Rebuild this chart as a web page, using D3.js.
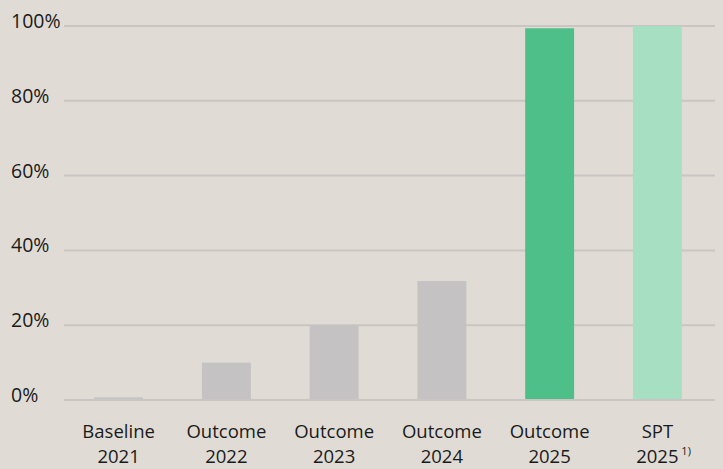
<!DOCTYPE html>
<html>
<head>
<meta charset="utf-8">
<script src="https://cdn.jsdelivr.net/npm/d3@7"></script>
<style>
  body { margin: 0; background: #e0dcd5; }
  svg { display: block; }
</style>
</head>
<body>
<svg id="chart"></svg>
<script>
// categories (two label lines each) and values in percent
const catLine1 = ["Baseline", "Outcome", "Outcome", "Outcome", "Outcome", "SPT"];
const catLine2 = ["2021", "2022", "2023", "2024", "2025", "2025"];
const values = [0.7, 10, 20, 31.8, 99.4, 100];
const barColors = ["#c4c2c2", "#c4c2c2", "#c4c2c2", "#c4c2c2", "#4fbf8a", "#a7dfc3"];
const yTicks = [0, 20, 40, 60, 80, 100];

const width = 723, height = 469;
const margin = { top: 26, right: 10, bottom: 69, left: 64 };

const svg = d3.select("#chart")
  .attr("width", width)
  .attr("height", height);

const x = d3.scaleBand()
  .domain(d3.range(values.length))
  .range([margin.left, width - 11])
  .paddingInner(0.546)
  .paddingOuter(0.28);

const y = d3.scaleLinear()
  .domain([0, 100])
  .range([height - margin.bottom, margin.top]);

// gridlines
svg.append("g")
  .selectAll("line")
  .data(yTicks)
  .join("line")
  .attr("x1", margin.left)
  .attr("x2", width - 8)
  .attr("y1", d => y(d))
  .attr("y2", d => y(d))
  .attr("stroke", "#c8c5c3")
  .attr("stroke-width", 2);

// y labels
svg.append("g")
  .selectAll("text")
  .data(yTicks)
  .join("text")
  .attr("x", 11)
  .attr("y", d => y(d) + 2)
  .attr("font-family", "Open Sans")
  .attr("font-size", 19.5)
  .attr("fill", "#1a1a1a")
  .text(d => d + "%");

// bars
svg.append("g")
  .selectAll("rect")
  .data(values)
  .join("rect")
  .attr("x", (d, i) => x(i))
  .attr("width", x.bandwidth())
  .attr("y", d => y(d))
  .attr("height", d => y(0) - y(d) - 1)
  .attr("fill", (d, i) => barColors[i]);

// x labels, one text per line
const cx = i => x(i) + x.bandwidth() / 2;

svg.append("g")
  .selectAll("text")
  .data(catLine1)
  .join("text")
  .attr("x", (d, i) => cx(i))
  .attr("y", 438)
  .attr("text-anchor", "middle")
  .attr("font-family", "Open Sans")
  .attr("font-size", 18.5)
  .attr("fill", "#1a1a1a")
  .text(d => d);

svg.append("g")
  .selectAll("text")
  .data(catLine2)
  .join("text")
  .attr("x", (d, i) => cx(i))
  .attr("y", 463)
  .attr("text-anchor", "middle")
  .attr("font-family", "Open Sans")
  .attr("font-size", 18.5)
  .attr("fill", "#1a1a1a")
  .text(d => d);

// footnote marker on last label
svg.append("text")
  .attr("x", cx(5) + 24)
  .attr("y", 455)
  .attr("font-family", "Open Sans")
  .attr("font-size", 11)
  .attr("fill", "#1a1a1a")
  .text("1)");
</script>
</body>
</html>
